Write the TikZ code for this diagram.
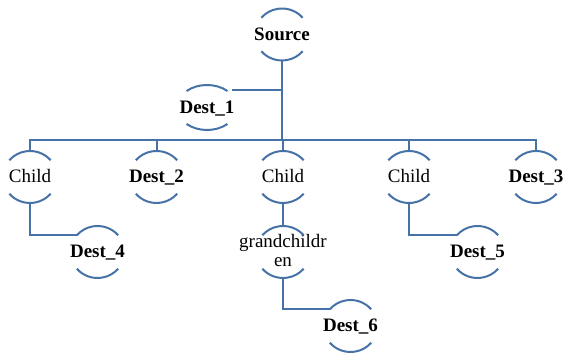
\documentclass[tikz,border=0pt]{standalone}
\usepackage{fontspec}
\setmainfont{Liberation Serif}
\usepackage{tikz}
\usetikzlibrary{shapes.geometric, calc}

\definecolor{chartblue}{RGB}{70,114,168}

\begin{document}
\begin{tikzpicture}[
  x=1pt, y=1pt,
  member/.style = {ellipse, inner sep=0pt, minimum width=54pt, minimum height=52pt},
  assist/.style = {ellipse, inner sep=0pt, minimum width=60pt, minimum height=45pt},
  every label/.style = {inner sep=0pt, text height=14pt, text depth=2pt, align=center,
    font=\fontsize{19}{19}\selectfont},
  bold/.style = {font=\fontsize{19}{19}\selectfont\bfseries},
  rim/.style = {draw=chartblue, line width=2pt},
  link/.style = {draw=chartblue, line width=2pt}
]
  \useasboundingbox (0,0) rectangle (563,353);

  % Top
  \node[member, label={[bold]center:Source}] (src) at (282,318.5) {};
  \node[assist, label={[bold]center:Dest\_1}] (d1) at (207,245.5) {};
  \coordinate (bus) at (282,213);

  % Children
  \node[member, label={center:Child}] (ch1) at (30,176) {};
  \node[member, label={[bold]center:Dest\_2}] (d2) at (156.5,176) {};
  \node[member, label={center:Child}] (ch2) at (283,176) {};
  \node[member, label={center:Child}] (ch3) at (409,176) {};
  \node[member, label={[bold]center:Dest\_3}] (d3) at (536,176) {};

  % Grandchildren
  \node[member, label={[bold]center:Dest\_4}] (d4) at (97.5,101) {};
  \node[member, label={[text height=32pt]center:grandchildr\\en}] (gc) at (283,101) {};
  \node[member, label={[bold]center:Dest\_5}] (d5) at (477.5,101) {};
  \node[member, label={[bold]center:Dest\_6}] (d6) at (350.5,27) {};

  % Arcs
  \foreach \n in {src,ch1,d2,ch2,ch3,d3,d4,gc,d5,d6} {
    \draw[rim] ([shift={(40:27 and 26)}]\n.center) arc[start angle=40, end angle=140, x radius=27, y radius=26];
    \draw[rim] ([shift={(220:27 and 26)}]\n.center) arc[start angle=220, end angle=320, x radius=27, y radius=26];
  }
  \draw[rim] ([shift={(47:30 and 22.5)}]d1.center) arc[start angle=47, end angle=133, x radius=30, y radius=22.5];
  \draw[rim] ([shift={(227:30 and 22.5)}]d1.center) arc[start angle=227, end angle=313, x radius=30, y radius=22.5];

  % Connectors
  \draw[link] (src.south) -- (bus);
  \draw[link] ([shift={(25,17.5)}]d1.center) -- (src |- {$(d1.center)+(0,17.5)$});
  \draw[link] (ch1.north) -- (ch1.north |- bus) -- (d3.north |- bus) -- (d3.north);
  \foreach \n in {d2,ch2,ch3}
    \draw[link] (\n.north) -- (\n.north |- bus);
  \draw[link] (ch1.south) |- (d4.141);
  \draw[link] (ch2.south) -- (gc.north);
  \draw[link] (ch3.south) |- (d5.141);
  \draw[link] (gc.south) |- (d6.141);

\end{tikzpicture}
\end{document}
